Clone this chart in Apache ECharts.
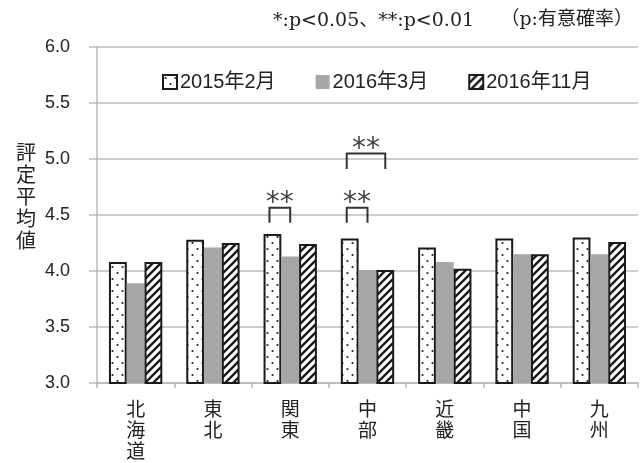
<!DOCTYPE html>
<html>
<head>
<meta charset="utf-8">
<script src="https://cdn.jsdelivr.net/npm/echarts@6/dist/echarts.min.js"></script>
<style>
  html, body { margin: 0; padding: 0; background: #fff; }
  #chart { width: 640px; height: 463px; }
</style>
</head>
<body>
<div id="chart"></div>
<script>
// Regions (x-axis categories)
const regions = ['北海道', '東北', '関東', '中部', '近畿', '中国', '九州'];

// Survey waves
const waveNames = ['2015年2月', '2016年3月', '2016年11月'];

// Mean rating per region for each wave
const feb2015 = [4.08, 4.28, 4.33, 4.29, 4.21, 4.29, 4.30];
const mar2016 = [3.89, 4.21, 4.13, 4.01, 4.08, 4.15, 4.15];
const nov2016 = [4.08, 4.25, 4.24, 4.01, 4.02, 4.15, 4.26];

// Y-axis range and step
const yMin = 3.0, yMax = 6.0, yStep = 0.5;

// Significance brackets: [region index, first bar, second bar, bracket top, leg end, mark]
const brackets = [
  [2, 0, 1, 4.565, 4.43, '**'],
  [3, 0, 1, 4.565, 4.43, '**'],
  [3, 0, 2, 5.05, 4.91, '**']
];

const CAT_GAP = 0.31;

// Fill patterns for the bars
function dotPattern() {
  const c = document.createElement('canvas');
  c.width = 10; c.height = 12;
  const g = c.getContext('2d');
  g.fillStyle = '#fff';
  g.fillRect(0, 0, 10, 12);
  g.fillStyle = '#222';
  [[2.5, 3], [7.5, 9]].forEach(function (p) {
    g.beginPath();
    g.arc(p[0], p[1], 1.1, 0, Math.PI * 2);
    g.fill();
  });
  return { image: c, repeat: 'repeat' };
}

function hatchPattern() {
  const c = document.createElement('canvas');
  c.width = 8; c.height = 8;
  const g = c.getContext('2d');
  g.fillStyle = '#fff';
  g.fillRect(0, 0, 8, 8);
  g.strokeStyle = '#1a1a1a';
  g.lineWidth = 2.4;
  g.beginPath();
  g.moveTo(-2, 10); g.lineTo(10, -2);
  g.moveTo(-6, 6); g.lineTo(6, -6);
  g.moveTo(2, 14); g.lineTo(14, 2);
  g.stroke();
  return { image: c, repeat: 'repeat' };
}

const chart = echarts.init(document.getElementById('chart'), null, { renderer: 'canvas' });

const outline = { borderColor: '#1a1a1a', borderWidth: 2 };

const option = {
  animation: false,
  backgroundColor: '#fff',
  grid: { left: 97, right: 2, top: 47, bottom: 80 },
  legend: {
    data: waveNames,
    left: 157,
    top: 67,
    itemWidth: 14,
    itemHeight: 14,
    itemGap: 40,
    icon: 'rect',
    textStyle: { fontFamily: 'Liberation Sans, Noto Sans CJK JP', fontSize: 20, color: '#222', padding: [0, 0, 0, -2] }
  },
  xAxis: {
    type: 'category',
    data: regions,
    axisLine: { lineStyle: { color: '#b8b8b8', width: 1.5 } },
    axisTick: { show: true, length: 5, lineStyle: { color: '#b8b8b8', width: 1.5 } },
    axisLabel: {
      margin: 15,
      fontFamily: 'Noto Sans CJK JP',
      fontSize: 19,
      lineHeight: 21,
      color: '#222',
      formatter: function (v) { return v.split('').join('\n'); }
    }
  },
  yAxis: {
    type: 'value',
    min: yMin,
    max: yMax,
    interval: yStep,
    axisLine: { show: true, lineStyle: { color: '#b8b8b8', width: 1.5 } },
    axisTick: { show: true, length: 8, lineStyle: { color: '#b8b8b8', width: 1.5 } },
    splitLine: { lineStyle: { color: '#bdbdbd', width: 1.5 } },
    axisLabel: {
      margin: 27,
      fontFamily: 'Liberation Sans',
      fontSize: 18,
      color: '#222',
      formatter: function (v) { return v.toFixed(1); }
    }
  },
  graphic: [
    {
      type: 'text', left: 16, top: 141,
      style: {
        text: '評\n定\n平\n均\n値',
        font: '20px "Noto Sans CJK JP"',
        lineHeight: 22,
        fill: '#222'
      }
    },
    {
      type: 'text', left: 273, top: 12,
      style: { text: '*:p<0.05、**:p<0.01', font: '19px "DejaVu Serif", "Noto Sans CJK JP"', fill: '#222' }
    },
    {
      type: 'text', right: 7, top: 11,
      style: { text: '（p:有意確率）', font: '19px "DejaVu Serif", "Noto Sans CJK JP"', fill: '#222' }
    }
  ],
  series: [
    {
      name: waveNames[0], type: 'bar', data: feb2015,
      barGap: '0%', barCategoryGap: (CAT_GAP * 100) + '%',
      itemStyle: Object.assign({ color: dotPattern() }, outline)
    },
    {
      name: waveNames[1], type: 'bar', data: mar2016,
      itemStyle: { color: '#a6a6a6', borderWidth: 0 }
    },
    {
      name: waveNames[2], type: 'bar', data: nov2016,
      itemStyle: Object.assign({ color: hatchPattern() }, outline)
    },
    {
      name: 'brackets', type: 'custom', data: brackets,
      encode: { x: 0, y: 3 },
      z: 10,
      renderItem: function (params, api) {
        const cat = api.value(0);
        const b1 = api.value(1), b2 = api.value(2);
        const top = api.coord([cat, api.value(3)]);
        const leg = api.coord([cat, api.value(4)]);
        const band = api.size([1, 0])[0];
        const barW = band * (1 - CAT_GAP) / 3;
        const xL = top[0] + (b1 - 1) * barW - 3;
        const xR = top[0] + (b2 - 1) * barW;
        const mark = brackets[params.dataIndex][5];
        return {
          type: 'group',
          children: [
            {
              type: 'polyline',
              shape: { points: [[xL, leg[1]], [xL, top[1]], [xR, top[1]], [xR, leg[1]]] },
              style: { stroke: '#333', lineWidth: 2, fill: null }
            },
            {
              type: 'text',
              style: {
                text: mark, x: (xL + xR) / 2, y: top[1] - 4,
                align: 'center', verticalAlign: 'middle',
                font: '28px "DejaVu Sans"', fill: '#444'
              }
            }
          ]
        };
      }
    }
  ]
};

chart.setOption(option);
</script>
</body>
</html>
